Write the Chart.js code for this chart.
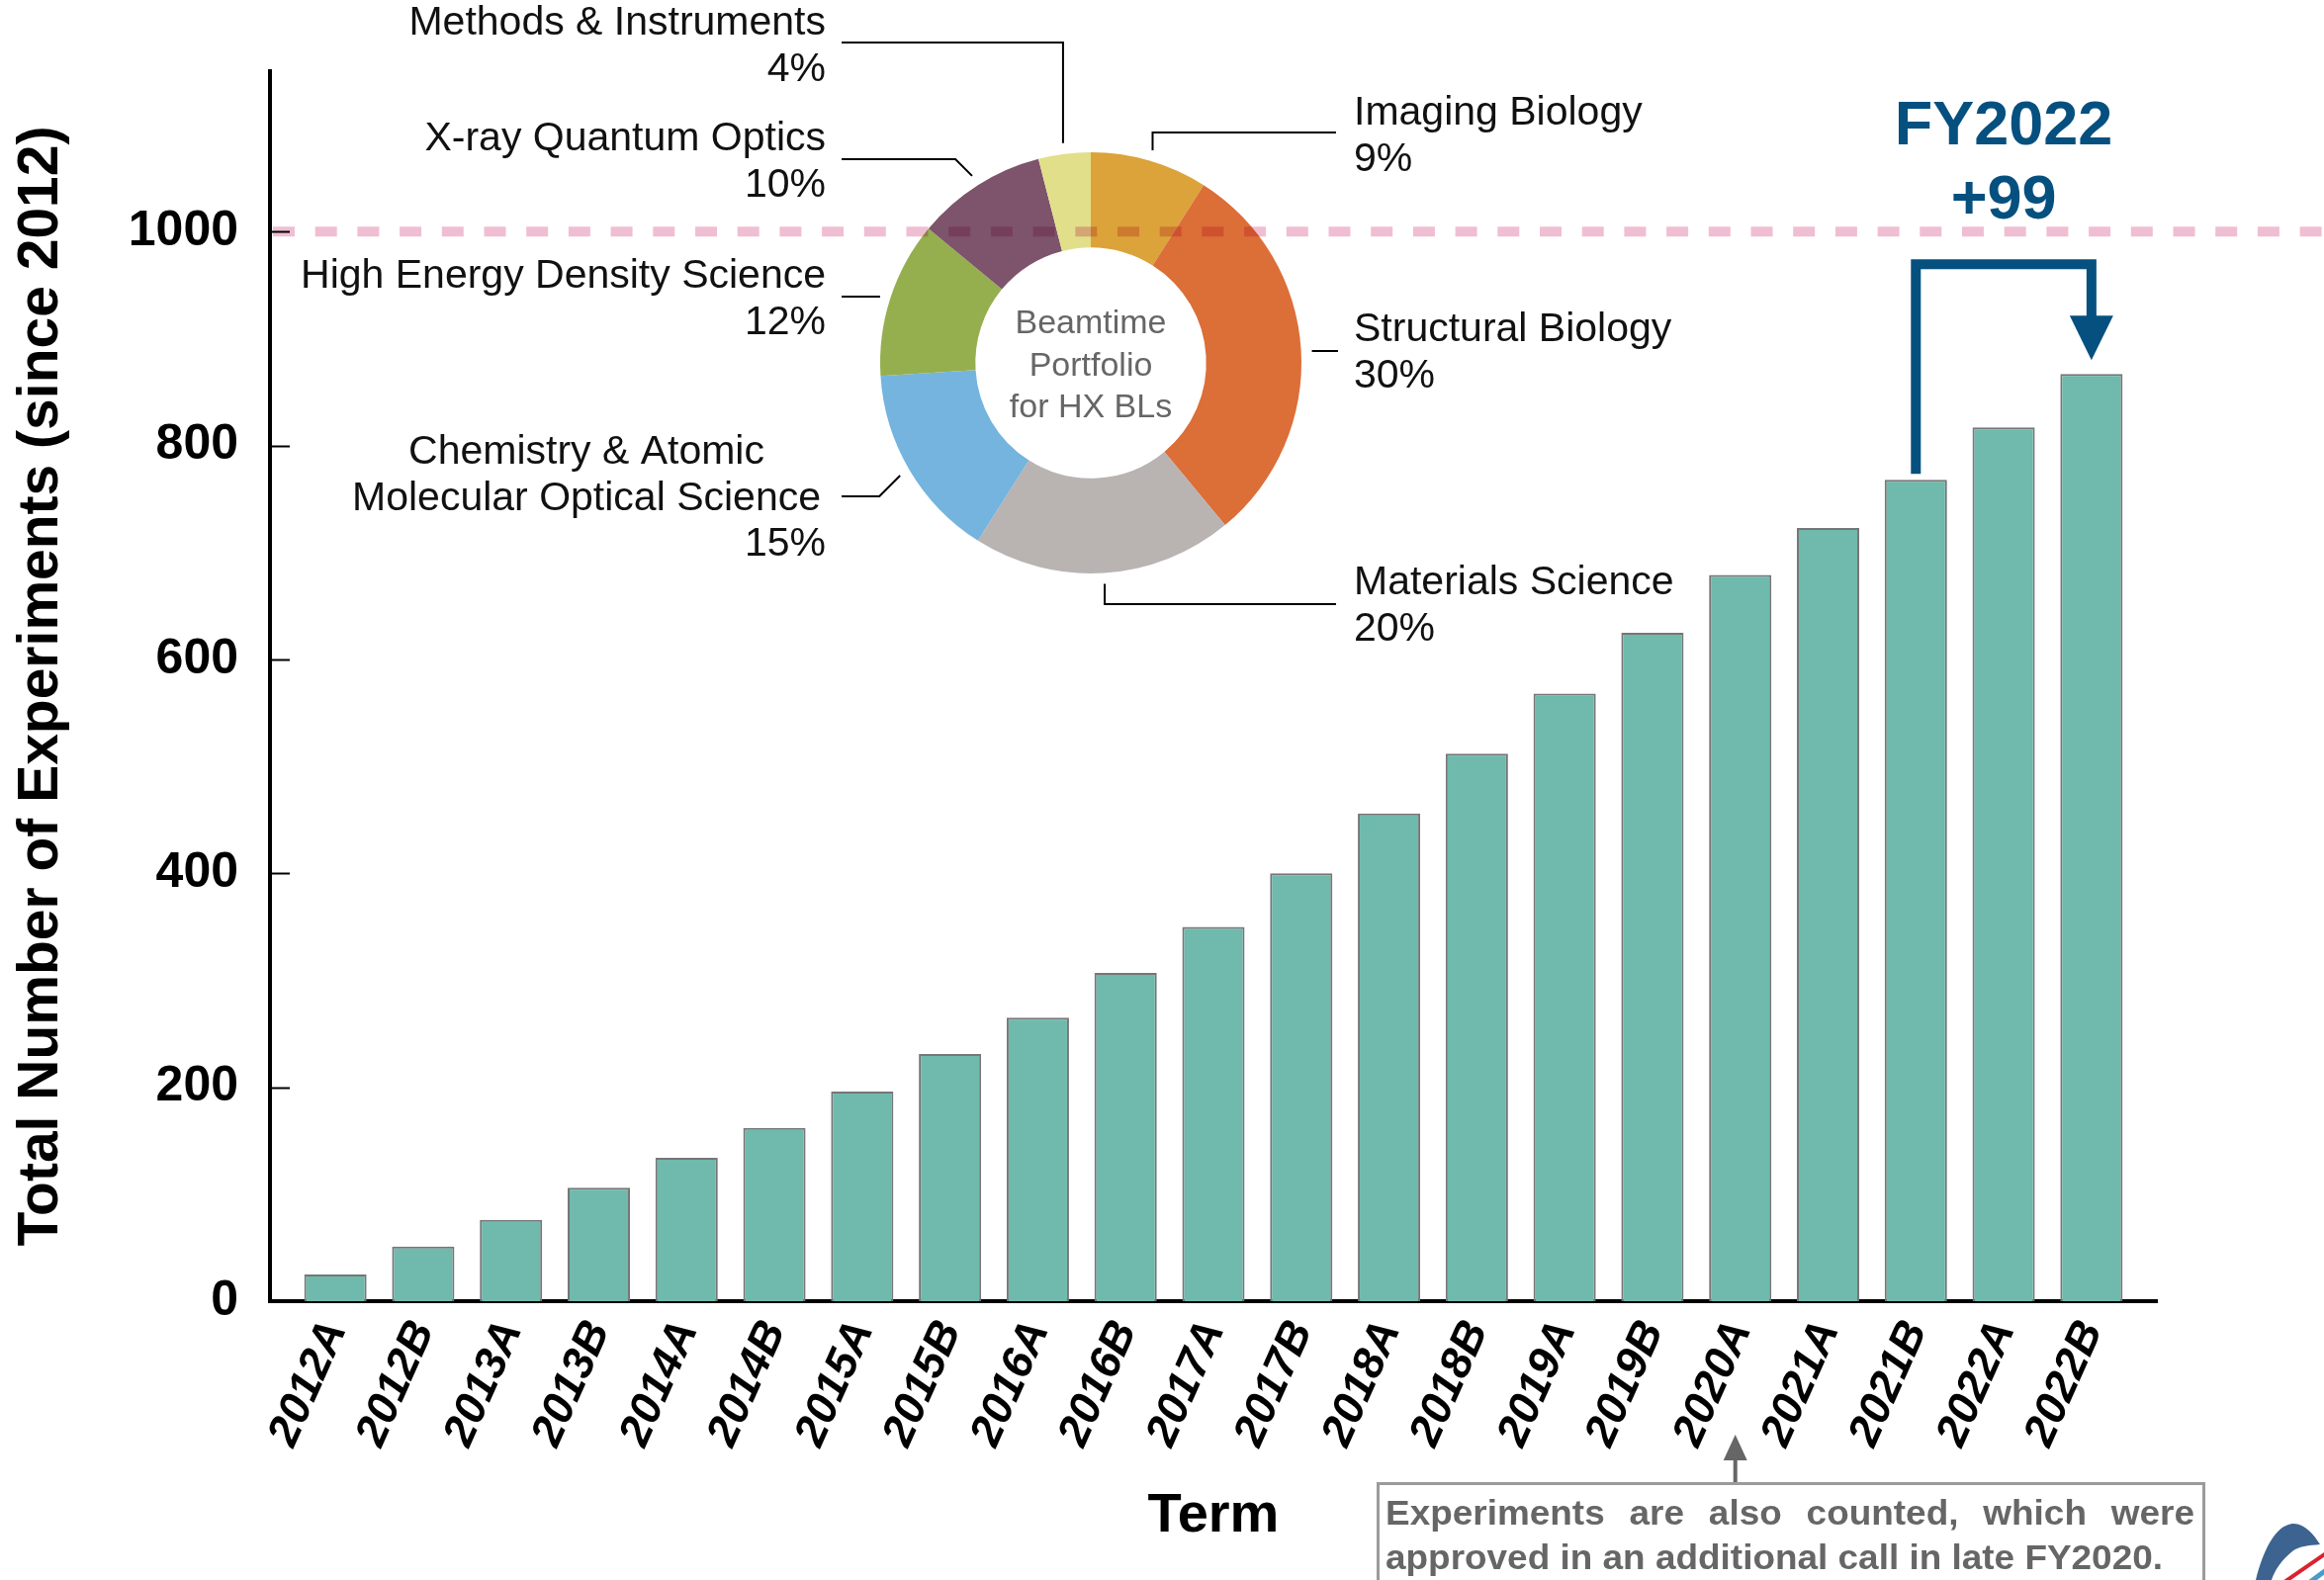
<!DOCTYPE html>
<html>
<head>
<meta charset="utf-8">
<script src="https://cdn.jsdelivr.net/npm/chart.js@4.4.0/dist/chart.umd.min.js"></script>
<style>
  html, body { margin: 0; padding: 0; background: #fff; }
  #wrap { position: relative; width: 2350px; height: 1598px; overflow: hidden; background: #fff; }
  #wrap canvas { position: absolute; left: 0; top: 0; }
  /* the ring sits above the 1000 guide line and darkens it where they cross */
  #donut { mix-blend-mode: multiply; }
</style>
</head>
<body>
<div id="wrap">
  <canvas id="bars" width="2350" height="1598"></canvas>
  <canvas id="donut" width="2350" height="1598"></canvas>
</div>
<script>
// ---- data -------------------------------------------------------------
const terms = ['2012A', '2012B', '2013A', '2013B', '2014A', '2014B', '2015A', '2015B',
  '2016A', '2016B', '2017A', '2017B', '2018A', '2018B', '2019A', '2019B',
  '2020A', '2021A', '2021B', '2022A', '2022B'];
const totalExperiments = [25, 51, 76, 106, 134, 162, 196, 231, 265, 307, 350,
  400, 456, 512, 568, 625, 679, 723, 768, 817, 867];
const yTickValues = [0, 200, 400, 600, 800, 1000];
const targetLine = 1000;

const portfolioFields = ['Imaging Biology', 'Structural Biology', 'Materials Science',
  'Chemistry & Atomic\nMolecular Optical Science', 'High Energy Density Science',
  'X-ray Quantum Optics', 'Methods & Instruments'];
const portfolioShares = [9, 30, 20, 15, 12, 10, 4];
const portfolioColors = ['#DBA33A', '#DC6E38', '#B9B3B2', '#74B4DF', '#95AF4F', '#7D546B', '#E2DF8B'];

// ---- styling ----------------------------------------------------------
const FONT = '"Liberation Sans", Arial, Helvetica, sans-serif';
const BLUE = '#06507F';
const W = 2350, H = 1598;

// inward tick marks on the value axis
const innerTicks = {
  id: 'innerTicks',
  afterDraw(chart) {
    const { ctx, chartArea, scales: { y } } = chart;
    ctx.save();
    ctx.strokeStyle = '#000';
    ctx.lineWidth = 2;
    yTickValues.forEach(v => {
      const py = Math.round(y.getPixelForValue(v)) + 0.5;
      ctx.beginPath();
      ctx.moveTo(chartArea.left + 2, py);
      ctx.lineTo(chartArea.left + 20, py);
      ctx.stroke();
    });
    ctx.restore();
  }
};

// dashed pink guide at the 1000 level
const guideLine = {
  id: 'guideLine',
  afterDatasetsDraw(chart) {
    const { ctx, chartArea, scales: { y } } = chart;
    const py = y.getPixelForValue(targetLine);
    ctx.save();
    ctx.strokeStyle = '#F0BED3';
    ctx.lineWidth = 10;
    ctx.setLineDash([22, 20.7]);
    ctx.beginPath();
    ctx.moveTo(chartArea.left + 3, py);
    ctx.lineTo(W, py);
    ctx.stroke();
    ctx.restore();
  }
};

// bracket arrow showing the FY2022 increase
const growthBracket = {
  id: 'growthBracket',
  afterDraw(chart) {
    const { ctx, scales: { x, y } } = chart;
    const i0 = terms.indexOf('2021B'), i1 = terms.indexOf('2022B');
    const x0 = x.getPixelForValue(i0), x1 = x.getPixelForValue(i1);
    const lineY = y.getPixelForValue(targetLine);
    const topY = lineY + 33;
    const startY = y.getPixelForValue(totalExperiments[i0]) - 6;
    const tipY = y.getPixelForValue(totalExperiments[i1]) - 14;
    const headH = 45, headW = 22;
    ctx.save();
    ctx.strokeStyle = BLUE;
    ctx.fillStyle = BLUE;
    ctx.lineWidth = 10;
    ctx.lineJoin = 'miter';
    ctx.lineCap = 'butt';
    ctx.beginPath();
    ctx.moveTo(x0, startY);
    ctx.lineTo(x0, topY);
    ctx.lineTo(x1, topY);
    ctx.lineTo(x1, tipY - headH + 1);
    ctx.stroke();
    ctx.beginPath();
    ctx.moveTo(x1 - headW, tipY - headH);
    ctx.lineTo(x1 + headW, tipY - headH);
    ctx.lineTo(x1, tipY);
    ctx.closePath();
    ctx.fill();
    const cx = (x0 + x1) / 2;
    ctx.textAlign = 'center';
    ctx.textBaseline = 'alphabetic';
    ctx.font = `bold 63px ${FONT}`;
    ctx.fillText('FY' + terms[i1].slice(0, 4), cx, lineY - 88);
    ctx.fillText('+' + (totalExperiments[i1] - totalExperiments[i0]), cx, lineY - 13);
    ctx.restore();
  }
};

// footnote box with a pointer to the 2020A term, plus the corner emblem
const footnote = {
  id: 'footnote',
  afterDraw(chart) {
    const { ctx, scales: { x } } = chart;
    const ax = x.getPixelForValue(terms.indexOf('2020A')) - 5;
    ctx.save();
    // pointer
    ctx.strokeStyle = '#666';
    ctx.fillStyle = '#666';
    ctx.lineWidth = 4;
    ctx.beginPath();
    ctx.moveTo(ax, 1500);
    ctx.lineTo(ax, 1474);
    ctx.stroke();
    ctx.beginPath();
    ctx.moveTo(ax - 12, 1477);
    ctx.lineTo(ax + 12, 1477);
    ctx.lineTo(ax, 1451);
    ctx.closePath();
    ctx.fill();
    // box
    ctx.strokeStyle = '#9B9B9B';
    ctx.lineWidth = 3;
    ctx.strokeRect(1393.5, 1500.5, 835, 140);
    // text, first line justified
    const left = 1401, right = 2219;
    ctx.font = `bold 35px ${FONT}`;
    ctx.fillStyle = '#666';
    ctx.textBaseline = 'alphabetic';
    const line2 = 'approved in an additional call in late FY2020.';
    const sx = 786 / ctx.measureText(line2).width;
    ctx.save();
    ctx.translate(left, 0);
    ctx.scale(sx, 1);
    const words = 'Experiments are also counted, which were'.split(' ');
    const wsum = words.reduce((s, w) => s + ctx.measureText(w).width, 0);
    const span = (right - left) / sx;
    const gap = (span - wsum) / (words.length - 1);
    let cx = 0;
    ctx.textAlign = 'left';
    words.forEach(w => { ctx.fillText(w, cx, 1542); cx += ctx.measureText(w).width + gap; });
    ctx.fillText(line2, 0, 1587);
    ctx.restore();

    // emblem in the corner (partly outside the frame)
    ctx.fillStyle = '#3D6490';
    ctx.beginPath();
    ctx.moveTo(2281, 1598);
    ctx.bezierCurveTo(2288, 1570, 2300, 1543, 2318, 1541);
    ctx.bezierCurveTo(2330, 1540, 2340, 1552, 2346, 1562);
    ctx.bezierCurveTo(2335, 1563, 2324, 1564, 2318, 1569);
    ctx.bezierCurveTo(2308, 1577, 2300, 1588, 2297, 1598);
    ctx.closePath();
    ctx.fill();
    ctx.strokeStyle = '#D9232F';
    ctx.lineWidth = 4;
    ctx.beginPath();
    ctx.moveTo(2310, 1600);
    ctx.lineTo(2352, 1571);
    ctx.stroke();
    ctx.strokeStyle = '#4A9CC8';
    ctx.lineWidth = 5;
    ctx.beginPath();
    ctx.moveTo(2336, 1600);
    ctx.lineTo(2352, 1588);
    ctx.stroke();
    ctx.restore();
  }
};

const barPoints = terms.map((t, i) => ({ x: i, y: totalExperiments[i] }));

new Chart(document.getElementById('bars'), {
  type: 'bar',
  data: {
    datasets: [{
      data: barPoints,
      backgroundColor: '#6FB9AD',
      borderColor: '#767676',
      borderWidth: 2,
      barPercentage: 0.71,
      categoryPercentage: 1
    }]
  },
  options: {
    responsive: false,
    animation: false,
    devicePixelRatio: 1,
    events: [],
    layout: { padding: { top: 72, right: 169, bottom: 0, left: 0 } },
    plugins: { legend: { display: false }, tooltip: { enabled: false } },
    scales: {
      x: {
        type: 'linear',
        offset: false,
        min: -0.745,
        max: 20.745,
        afterBuildTicks: s => { s.ticks = terms.map((_, i) => ({ value: i })); },
        afterFit: s => { s.height = 282; },
        grid: { display: false, drawTicks: false },
        border: { display: true, color: '#000', width: 4 },
        ticks: {
          autoSkip: false,
          minRotation: 66,
          maxRotation: 66,
          padding: 12,
          color: '#000',
          font: { family: FONT, size: 45, weight: 'bold', style: 'italic' },
          callback: v => terms[v] ?? ''
        },
        title: {
          display: true,
          text: 'Term',
          color: '#000',
          font: { family: FONT, size: 56, weight: 'bold' },
          padding: { top: 0, bottom: 31 }
        }
      },
      y: {
        min: 0,
        max: 1150,
        afterBuildTicks: s => { s.ticks = yTickValues.map(v => ({ value: v })); },
        afterFit: s => { s.width = 273; },
        grid: { display: false, drawTicks: false },
        border: { display: true, color: '#000', width: 4 },
        ticks: {
          padding: 32,
          color: '#000',
          font: { family: FONT, size: 50, weight: 'bold' },
          callback: v => String(v)
        },
        title: {
          display: true,
          text: 'Total Number of Experiments (since 2012)',
          color: '#000',
          font: { family: FONT, size: 57, weight: 'bold' },
          padding: { top: 8, bottom: 0 }
        }
      }
    }
  },
  plugins: [guideLine, innerTicks, growthBracket, footnote]
});

// ---- portfolio ring ---------------------------------------------------
// leader line and text placement for each field (same order as portfolioFields)
const labelLayout = [
  { bend: 'vertical', lineY: 134, endX: 1351, nameAlign: 'left', nameX: 1369, pctAlign: 'left', pctX: 1369, y0: 126 },
  { bend: 'none', lineY: 355, endX: 1353, nameAlign: 'left', nameX: 1369, pctAlign: 'left', pctX: 1369, y0: 345 },
  { bend: 'vertical', lineY: 611, endX: 1351, nameAlign: 'left', nameX: 1369, pctAlign: 'left', pctX: 1369, y0: 601 },
  { bend: 'diagonal', lineY: 502, endX: 851, nameAlign: 'center', nameX: 593, pctAlign: 'right', pctX: 835, y0: 469 },
  { bend: 'none', lineY: 300, endX: 851, nameAlign: 'right', nameX: 835, pctAlign: 'right', pctX: 835, y0: 291 },
  { bend: 'diagonal', lineY: 161, endX: 851, nameAlign: 'right', nameX: 835, pctAlign: 'right', pctX: 835, y0: 152 },
  { bend: 'vertical', lineY: 43, endX: 851, nameAlign: 'right', nameX: 835, pctAlign: 'right', pctX: 835, y0: 35 }
];
const LINE_GAP = 46.5;

const ringLabels = {
  id: 'ringLabels',
  afterDraw(chart) {
    const { ctx } = chart;
    const arcs = chart.getDatasetMeta(0).data;
    ctx.save();
    ctx.strokeStyle = '#000';
    ctx.lineWidth = 2;
    ctx.fillStyle = '#111';
    ctx.font = `41px ${FONT}`;
    ctx.textBaseline = 'alphabetic';
    arcs.forEach((arc, i) => {
      const L = labelLayout[i];
      const mid = (arc.startAngle + arc.endAngle) / 2;
      const r = arc.outerRadius + 11;
      const sx = arc.x + Math.cos(mid) * r;
      const sy = arc.y + Math.sin(mid) * r;
      ctx.beginPath();
      ctx.moveTo(sx, sy);
      if (L.bend === 'vertical') {
        ctx.lineTo(sx, L.lineY);
      } else if (L.bend === 'diagonal') {
        const d = Math.abs(L.lineY - sy);
        ctx.lineTo(sx + (L.endX < sx ? -d : d), L.lineY);
      } else {
        ctx.moveTo(sx, L.lineY);
      }
      ctx.lineTo(L.endX, L.lineY);
      ctx.stroke();

      const lines = portfolioFields[i].split('\n');
      lines.forEach((t, k) => {
        ctx.textAlign = L.nameAlign;
        ctx.fillText(t, L.nameX, L.y0 + k * LINE_GAP);
      });
      ctx.textAlign = L.pctAlign;
      ctx.fillText(portfolioShares[i] + '%', L.pctX, L.y0 + lines.length * LINE_GAP);
    });

    // caption in the hole
    const c = arcs[0];
    ctx.fillStyle = '#666';
    ctx.font = `34px ${FONT}`;
    ctx.textAlign = 'center';
    ['Beamtime', 'Portfolio', 'for HX BLs'].forEach((t, k) => {
      ctx.fillText(t, c.x, c.y - 30 + k * 42.5);
    });
    ctx.restore();
  }
};

new Chart(document.getElementById('donut'), {
  type: 'doughnut',
  data: {
    labels: portfolioFields,
    datasets: [{ data: portfolioShares, backgroundColor: portfolioColors, borderWidth: 0 }]
  },
  options: {
    responsive: false,
    animation: false,
    devicePixelRatio: 1,
    events: [],
    cutout: '54.8%',
    rotation: 0,
    layout: { padding: { left: 890, top: 154, right: 1034, bottom: 1018 } },
    plugins: { legend: { display: false }, tooltip: { enabled: false } }
  },
  plugins: [ringLabels]
});
</script>
</body>
</html>
